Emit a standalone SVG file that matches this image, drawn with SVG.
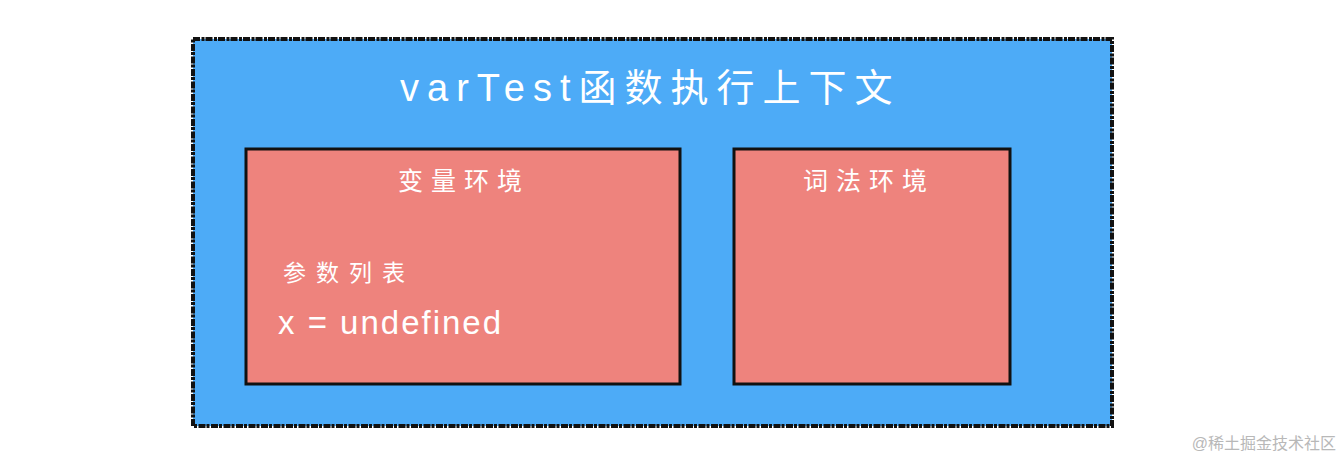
<svg xmlns="http://www.w3.org/2000/svg" width="1344" height="460" viewBox="0 0 1344 460">
<style>
.t{font-family:"Liberation Sans","Noto Sans CJK SC",sans-serif;fill:#ffffff}
.box{fill:#EE837D;stroke:#111111;stroke-width:3}
</style>
<rect width="1344" height="460" fill="#ffffff"/>
<g id="context">
<rect x="193" y="39" width="919" height="387" fill="#4DABF7" stroke="#111111" stroke-width="4" stroke-dasharray="7 1.5 3 1"/>
<text class="t" x="400" y="101" font-size="38" letter-spacing="8">varTest函数执行上下文</text>
</g>
<g id="var-env">
<rect class="box" x="246" y="149" width="434" height="235"/>
<text class="t" x="398" y="190" font-size="25" letter-spacing="8">变量环境</text>
<text class="t" x="283" y="281" font-size="23" letter-spacing="10">参数列表</text>
<text class="t" x="278" y="334" font-size="33" letter-spacing="2">x = undefined</text>
</g>
<g id="lex-env">
<rect class="box" x="734" y="149" width="276" height="235"/>
<text class="t" x="803" y="190" font-size="25" letter-spacing="8">词法环境</text>
</g>
<g id="connectors"/>
<text x="1336" y="449" font-size="16" text-anchor="end" fill="#b8b8b8" font-family="Liberation Sans,Noto Sans CJK SC,sans-serif">@稀土掘金技术社区</text>
</svg>
